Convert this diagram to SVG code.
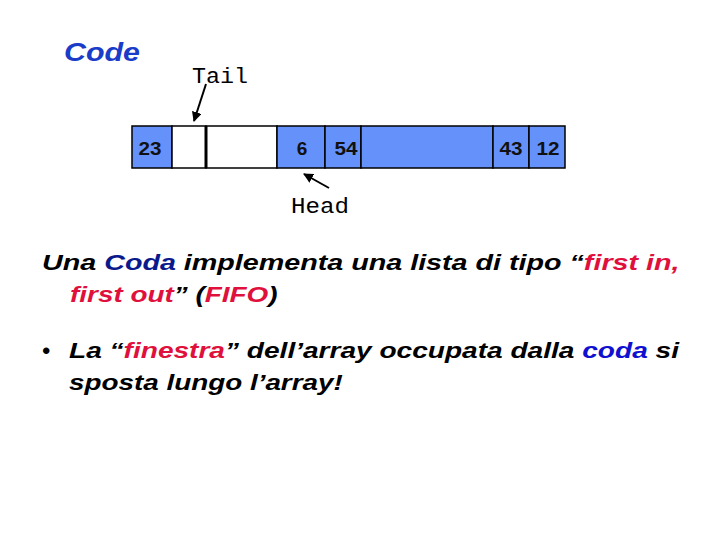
<svg xmlns="http://www.w3.org/2000/svg" width="720" height="540" viewBox="0 0 720 540">
<style>
.cell{stroke:#000;stroke-width:1.5}
.b{fill:#6591fb}
.w{fill:#fff}
.num{font-family:"Liberation Sans",Arial,sans-serif;font-weight:bold;font-size:19px;fill:#111;text-anchor:middle}
.mono{font-family:"Liberation Mono","Courier New",monospace;font-size:22px;fill:#000}
.t{font-family:"Liberation Sans",Arial,sans-serif;font-weight:bold;font-style:italic;font-size:22.5px;fill:#000}
.red{fill:#e0103c}
.dblue{fill:#0a1a8c}
.blue{fill:#1010d0}
</style>
<defs>
<marker id="ah" viewBox="0 0 10 10" refX="9" refY="5" markerWidth="5" markerHeight="5" orient="auto">
<path d="M0,0 L10,5 L0,10 z" fill="#000"/>
</marker>
</defs>
<text x="64" y="61" font-family="Liberation Sans,Arial,sans-serif" font-weight="bold" font-style="italic" font-size="26" fill="#1a3cc8" textLength="76" lengthAdjust="spacingAndGlyphs">Code</text>
<g id="array">
<rect class="cell b" x="132" y="126" width="40" height="42"/>
<rect class="cell w" x="172" y="126" width="34" height="42"/>
<rect class="cell w" x="206" y="126" width="71" height="42"/>
<line x1="206" y1="126" x2="206" y2="168" stroke="#000" stroke-width="3"/>
<rect class="cell b" x="277" y="126" width="48" height="42"/>
<rect class="cell b" x="325" y="126" width="36" height="42"/>
<rect class="cell b" x="361" y="126" width="132" height="42"/>
<rect class="cell b" x="493" y="126" width="36" height="42"/>
<rect class="cell b" x="529" y="126" width="36" height="42"/>
<text class="num" x="150" y="155" textLength="23" lengthAdjust="spacingAndGlyphs">23</text>
<text class="num" x="302" y="155">6</text>
<text class="num" x="346" y="155" textLength="23" lengthAdjust="spacingAndGlyphs">54</text>
<text class="num" x="511" y="155" textLength="23" lengthAdjust="spacingAndGlyphs">43</text>
<text class="num" x="548" y="155" textLength="23" lengthAdjust="spacingAndGlyphs">12</text>
</g>
<g id="tail">
<text class="mono" x="192" y="83" textLength="56" lengthAdjust="spacingAndGlyphs">Tail</text>
</g>
<g id="head">
<text class="mono" x="291" y="213" textLength="58" lengthAdjust="spacingAndGlyphs">Head</text>
</g>
<g id="connectors">
<line x1="206" y1="84" x2="194" y2="121" stroke="#000" stroke-width="2" marker-end="url(#ah)"/>
<line x1="329" y1="188" x2="304" y2="174" stroke="#000" stroke-width="2" marker-end="url(#ah)"/>
</g>
<text class="t" transform="translate(42,270) scale(1.25,1)" x="0" y="0" textLength="510" lengthAdjust="spacingAndGlyphs">Una <tspan class="dblue">Coda</tspan> implementa una lista di tipo “<tspan class="red">first in,</tspan></text>
<text class="t" transform="translate(70,302) scale(1.25,1)" x="0" y="0" textLength="166" lengthAdjust="spacingAndGlyphs"><tspan class="red">first out</tspan>” (<tspan class="red">FIFO</tspan>)</text>
<text class="t" x="42" y="358" font-style="normal">•</text>
<text class="t" transform="translate(69,358) scale(1.25,1)" x="0" y="0" textLength="488" lengthAdjust="spacingAndGlyphs">La “<tspan class="red">finestra</tspan>” dell’array occupata dalla <tspan class="blue">coda</tspan> si</text>
<text class="t" transform="translate(69,390) scale(1.25,1)" x="0" y="0" textLength="219" lengthAdjust="spacingAndGlyphs">sposta lungo l’array!</text>
</svg>
